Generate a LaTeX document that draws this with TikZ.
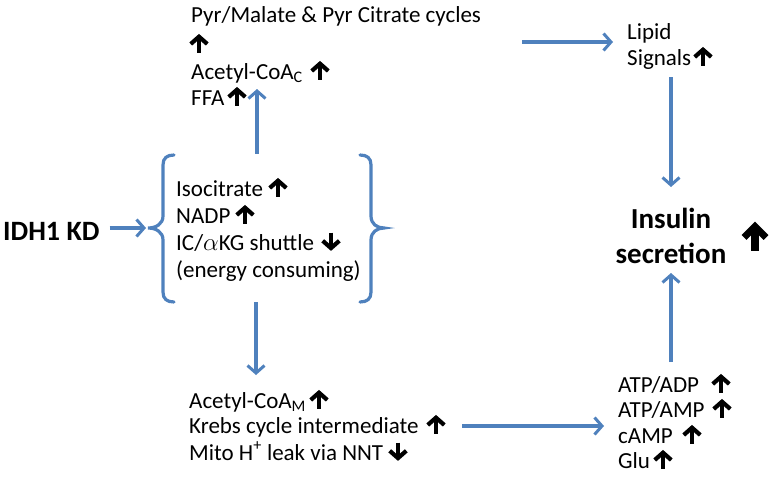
\documentclass[tikz,border=0pt]{standalone}
\usepackage{fontspec}
\setmainfont{Carlito}
\usetikzlibrary{arrows.meta}
\definecolor{flowblue}{RGB}{79,129,189}
\begin{document}
\begin{tikzpicture}[x=1pt,y=-1pt,
  txt/.style={anchor=base west,inner sep=0pt,font=\fontsize{23}{27}\selectfont},
  boldtxt/.style={inner sep=0pt,font=\fontsize{28}{34}\selectfont\bfseries},
  flow/.style={draw=flowblue,line width=3.2pt,-{Straight Barb[length=7.5pt,width=17pt,line width=3pt]}},
  bracepath/.style={draw=flowblue,line width=3.2pt,line cap=round},
  upar/.pic={\draw[line width=4.4pt] (0,0.5)--(0,-13);
             \draw[line width=4.2pt,miter limit=10] (-8.3,-8)--(0,-15.3)--(8.3,-8);},
  downar/.pic={\draw[line width=4.4pt] (0,-17.5)--(0,-4);
             \draw[line width=4.2pt,miter limit=10] (-8.3,-9.2)--(0,-1.9)--(8.3,-9.2);},
  bigup/.pic={\draw[line width=7.5pt] (0,0.5)--(0,-20);
             \draw[line width=7pt,miter limit=10] (-11,-12.5)--(0,-23.5)--(11,-12.5);}
]
\useasboundingbox (0,0) rectangle (772,485);

% top block
\node[txt] (pyr) at (191,22) {Pyr/Malate \& Pyr Citrate cycles};
\coordinate (pyrar) at (199,52);
\pic at (pyrar) {upar};
\node[txt] (acc) at (191,79) {Acetyl-CoA\textsubscript{C}};
\pic at (320,79) {upar};
\node[txt] (ffa) at (191,105) {FFA};
\pic at (237,105) {upar};

% lipid
\node[txt] (lip1) at (627,39) {Lipid};
\node[txt] (lip2) at (627,65) {Signals};
\pic at (703,65) {upar};

% IDH1 KD
\node[boldtxt,anchor=base west] (idh) at (3,240) {IDH1 KD};

% bracket group
\node[inner sep=0pt,minimum width=238pt,minimum height=148pt] (mid) at (265,228) {};
\node[txt] (iso) at (176,196) {Isocitrate};
\pic at (278,196) {upar};
\node[txt] (nadp) at (176,223) {NADP};
\pic at (245,223) {upar};
\node[txt] (ic) at (176,250) {IC/$\alpha$KG shuttle};
\pic at (331,250) {downar};
\node[txt] (en) at (176,277) {(energy consuming)};

\draw[bracepath] (174,155) .. controls (167,155) and (163,158) .. (163,165) -- (163,216)
  .. controls (163,224) and (156,228) .. (148,228)
  .. controls (156,228) and (163,232) .. (163,240) -- (163,292)
  .. controls (163,299) and (167,302) .. (174,302);
\draw[bracepath] (360,155) .. controls (367,155) and (371,158) .. (371,165) -- (371,216)
  .. controls (371,224) and (377,228) .. (384,228)
  .. controls (377,228) and (371,232) .. (371,240) -- (371,292)
  .. controls (371,299) and (367,302) .. (360,302);
\coordinate (ltip) at (146,228);

% bottom left block
\node[txt] (acm) at (189,408) {Acetyl-CoA\textsubscript{M}};
\pic at (319,408) {upar};
\node[txt] (krebs) at (189,433) {Krebs cycle intermediate};
\pic at (436,433) {upar};
\node[txt] (mito) at (189,460) {Mito H\textsuperscript{+} leak via NNT};
\pic at (398,460) {downar};

% bottom right block
\node[txt] (atp1) at (618,392) {ATP/ADP};
\pic at (721,392) {upar};
\node[txt] (atp2) at (618,417) {ATP/AMP};
\pic at (722,417) {upar};
\node[txt] (camp) at (618,443) {cAMP};
\pic at (692,443) {upar};
\node[txt] (glu) at (618,468) {Glu};
\pic at (663,468) {upar};

% insulin
\node[boldtxt,font=\fontsize{29}{35}\selectfont\bfseries,align=center] (ins) at (671,236) {Insulin\\secretion};
\pic at (755,250) {bigup};

% connectors
\coordinate (topstart) at (522,42);
\coordinate (topend) at (613,42);
\draw[flow] (topstart) -- (topend);
\draw[flow] (ins.north |- 0,77) -- (ins.north |- 0,187);
\draw[flow] (ins.south |- 0,362) -- (ins.south |- 0,273);
\coordinate (botstart) at (462,426);
\coordinate (botend) at (604,426);
\draw[flow] (botstart) -- (botend);
\draw[flow] (mid.north -| 257,0) -- (257,89);
\draw[flow] (mid.south -| 256,0) -- (256,375);
\draw[flow] ([xshift=10pt]idh.east |- ltip) -- (ltip);
\end{tikzpicture}
\end{document}
